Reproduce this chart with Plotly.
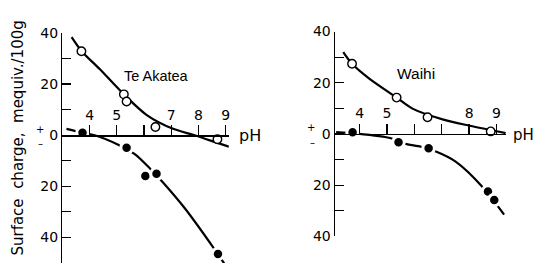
import plotly.graph_objects as go

# ---------------- data ----------------
ph_ticks = [4, 5, 6, 7, 8, 9]
ta_ph_ticktext = ["4", "5", "", "7", "8", "9"]
wa_ph_ticktext = ["4", "5", "", "", "8", "9"]

ta_q_ticks = [-50, -40, -30, -20, -10, 0, 10, 20, 30, 40]
ta_q_ticktext = ["", "40", "", "20", "", "0", "", "20", "", "40"]
wa_q_ticks = [-40, -30, -20, -10, 0, 10, 20, 30, 40]
wa_q_ticktext = ["40", "", "20", "", "0", "", "20", "", "40"]

# Te Akatea
ta_open_ph = [3.70, 5.26, 5.36, 6.42, 8.70]
ta_open_q = [32.9, 16.0, 13.2, 3.2, -1.6]
ta_fill_ph = [3.74, 5.36, 6.05, 6.46, 8.72]
ta_fill_q = [1.0, -4.9, -16.0, -15.1, -46.5]
ta_open_curve_ph = [3.34, 3.70, 4.38, 5.26, 6.09, 7.07, 7.86, 8.70, 9.12]
ta_open_curve_q = [38.4, 33.0, 25.8, 16.0, 8.0, 2.5, 0.0, -3.0, -4.5]
ta_fill_curve_ph = [3.15, 3.74, 4.19, 5.05, 5.66, 6.21, 6.70, 7.50, 8.53, 9.08]
ta_fill_curve_q = [2.5, 1.0, 0.0, -3.7, -7.4, -12.9, -18.5, -28.6, -43.7, -52.3]

# Waihi
wa_open_ph = [3.72, 5.35, 6.48, 8.79]
wa_open_q = [27.4, 14.2, 6.5, 1.0]
wa_fill_ph = [3.74, 5.42, 6.52, 8.69, 8.92]
wa_fill_q = [0.7, -3.2, -5.6, -22.5, -25.8]
wa_open_curve_ph = [3.40, 3.72, 4.35, 5.35, 5.93, 7.03, 8.03, 9.34]
wa_open_curve_q = [32.0, 27.4, 21.6, 14.2, 9.9, 5.7, 3.2, 0.3]
wa_fill_curve_ph = [3.14, 3.92, 5.14, 5.63, 6.24, 6.72, 7.52, 8.49, 9.28]
wa_fill_curve_q = [0.7, 0.1, -1.7, -3.8, -5.0, -6.6, -10.9, -20.7, -31.5]

# ---------------- layout geometry ----------------
W, H = 537, 278
FONT = "DejaVu Sans"
TFONT = "Liberation Sans"


def px(x):
    return x / W


def py(y):
    return 1 - y / H


ta_xdom = [px(62.5), px(229.3)]
ta_ydom = [py(270.5), py(26.6)]
ta_xr = [3.0, 9.12]
ta_yr = [-50, 40]

wa_xdom = [px(335.7), px(506.7)]
wa_ydom = [py(242.3), py(25.0)]
wa_xr = [3.1, 9.34]
wa_yr = [-40, 40]


def zero_pos(ydom, yr):
    return ydom[0] + (0 - yr[0]) / (yr[1] - yr[0]) * (ydom[1] - ydom[0])


fig = go.Figure()


def add_panel(xa, ya, ocx, ocy, fcx, fcy, ox, oy, fx, fy):
    fig.add_trace(go.Scatter(x=ocx, y=ocy, mode="lines", xaxis=xa, yaxis=ya,
                             line=dict(color="black", width=2.2, shape="spline", smoothing=0.8),
                             showlegend=False, hoverinfo="skip"))
    fig.add_trace(go.Scatter(x=fcx, y=fcy, mode="lines", xaxis=xa, yaxis=ya,
                             line=dict(color="black", width=2.2, shape="spline", smoothing=0.8),
                             showlegend=False, hoverinfo="skip"))
    fig.add_trace(go.Scatter(x=ox, y=oy, mode="markers", xaxis=xa, yaxis=ya,
                             marker=dict(symbol="circle", size=8.5, color="white",
                                         line=dict(color="black", width=1.4)),
                             showlegend=False, cliponaxis=False))
    fig.add_trace(go.Scatter(x=fx, y=fy, mode="markers", xaxis=xa, yaxis=ya,
                             marker=dict(symbol="circle", size=11.5, color="black",
                                         line=dict(color="white", width=3)),
                             showlegend=False, cliponaxis=False))


add_panel("x", "y", ta_open_curve_ph, ta_open_curve_q, ta_fill_curve_ph, ta_fill_curve_q,
          ta_open_ph, ta_open_q, ta_fill_ph, ta_fill_q)
add_panel("x2", "y2", wa_open_curve_ph, wa_open_curve_q, wa_fill_curve_ph, wa_fill_curve_q,
          wa_open_ph, wa_open_q, wa_fill_ph, wa_fill_q)

xcommon = dict(showgrid=False, zeroline=False, showline=True, linecolor="black", linewidth=1.5,
               ticks="outside", ticklen=10, tickwidth=1.3, tickcolor="black",
               side="top", anchor="free", tickvals=ph_ticks,
               tickfont=dict(family=FONT, size=14, color="black"), fixedrange=True)
ycommon = dict(showgrid=False, zeroline=False, showline=True, linecolor="black", linewidth=1.5,
               ticks="inside", ticklen=9, tickwidth=1.3, tickcolor="black",
               tickfont=dict(family=FONT, size=14, color="black"), fixedrange=True)

fig.update_layout(
    width=W, height=H, autosize=False,
    margin=dict(l=0, r=0, t=0, b=0),
    paper_bgcolor="white", plot_bgcolor="rgba(0,0,0,0)",
    font=dict(family=FONT, color="black"),
    hovermode=False,
    xaxis=dict(xcommon, domain=ta_xdom, range=ta_xr, ticktext=ta_ph_ticktext,
               position=zero_pos(ta_ydom, ta_yr)),
    yaxis=dict(ycommon, domain=ta_ydom, range=ta_yr, anchor="x",
               tickvals=ta_q_ticks, ticktext=ta_q_ticktext),
    xaxis2=dict(xcommon, domain=wa_xdom, range=wa_xr, ticktext=wa_ph_ticktext,
                position=zero_pos(wa_ydom, wa_yr)),
    yaxis2=dict(ycommon, domain=wa_ydom, range=wa_yr, anchor="x2",
                tickvals=wa_q_ticks, ticktext=wa_q_ticktext),
)

ann = []


def text(x, y, s, size, angle=0, xanchor="center", family=FONT):
    ann.append(dict(x=px(x), y=py(y), xref="paper", yref="paper", text=s, showarrow=False,
                    font=dict(family=family, size=size, color="black"), textangle=angle,
                    xanchor=xanchor, yanchor="middle", borderpad=0))


text(156.5, 72, "Te Akatea", 14.5, family=TFONT)
text(416.5, 70, "Waihi", 15.5, family=TFONT)
text(238, 135, "pH", 16, xanchor="left")
text(536, 135, "pH", 15, xanchor="right")
text(40.5, 129, "+", 10)
text(40.7, 144, "\u2013", 10)
text(311.7, 127, "+", 10)
text(313, 143, "\u2013", 10)
text(18, 137.5, "Surface  charge,  mequiv./100g", 15, angle=-90)
fig.update_layout(annotations=ann)

fig.write_html("out.html",
               config={"displayModeBar": False, "staticPlot": True},
               post_script="document.body.style.margin='0';document.body.style.overflow='hidden';")
